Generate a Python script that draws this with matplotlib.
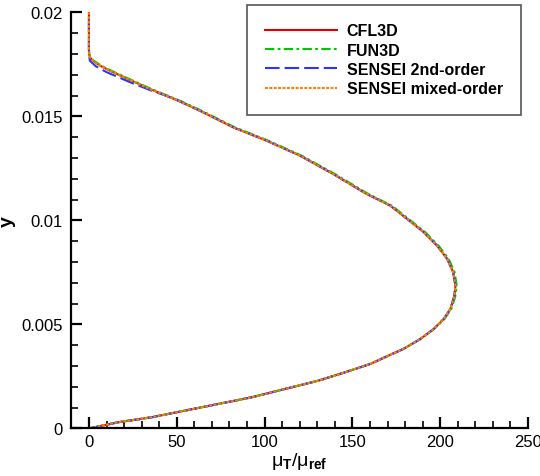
import numpy as np
import matplotlib.pyplot as plt
from matplotlib.ticker import MultipleLocator

plt.rcParams['font.family'] = ['Liberation Sans', 'DejaVu Sans']
plt.rcParams['mathtext.fontset'] = 'custom'
plt.rcParams['mathtext.rm'] = 'Liberation Sans'
plt.rcParams['mathtext.bf'] = 'Liberation Sans:bold'
plt.rcParams['mathtext.it'] = 'Liberation Sans:italic'

# eddy viscosity profile (mu_T/mu_ref vs y)
x_cfl3d = [0, 16.7, 35.7, 54.7, 73.7, 92.7, 111.7, 130.7, 145.8, 160.2,
           170.5, 179, 188.7, 196.3, 202, 205.8, 208.1, 208.7, 207.4, 204,
           198.3, 190.7, 181.2, 171.6, 158.1, 139.1, 120.2, 101.2, 82.2, 63.2,
           50.9, 34.8, 22, 12, 6, 2.4, 0.8, 0.2, 0, 0]
y_cfl3d = [0, 0.0003, 0.00054, 0.00086, 0.00118, 0.0015, 0.0019, 0.0023, 0.0027, 0.0031,
           0.0035, 0.00382, 0.0043, 0.00478, 0.00526, 0.00574, 0.00638, 0.00686, 0.00751, 0.00815,
           0.00878, 0.00943, 0.01007, 0.01071, 0.01127, 0.01223, 0.01311, 0.01383, 0.01447, 0.01527,
           0.01575, 0.01631, 0.0168, 0.01719, 0.01745, 0.01767, 0.0178, 0.01795, 0.0182, 0.02]

# FUN3D sits a hair to the right on the upper branch
x_fun3d = [0, 16.7, 35.7, 54.7, 73.7, 92.7, 111.7, 130.7, 145.8, 160.2,
           170.5, 179, 188.8, 196.5, 202.4, 206.3, 208.7, 209.4, 208.2, 204.8,
           199.1, 191.5, 182, 172.4, 159, 140, 121.1, 102.1, 83.1, 64.1,
           51.8, 35.6, 22.8, 12.8, 6.6, 2.8, 1, 0.3, 0, 0]
y_fun3d = y_cfl3d

# SENSEI 2nd-order drops slightly below near the edge of the layer
x_s2 = [0, 16.7, 35.7, 54.7, 73.7, 92.7, 111.7, 130.7, 145.8, 160.2,
        170.5, 179, 188.7, 196.3, 202, 205.8, 208.1, 208.7, 207.4, 204,
        198.3, 190.7, 181.2, 171.6, 158.1, 139.1, 120.2, 101.2, 82.2, 63.2,
        50.9, 46.2, 34.8, 23.4, 10.1, 4, 0.5, 0, 0]
y_s2 = [0, 0.0003, 0.00054, 0.00086, 0.00118, 0.0015, 0.0019, 0.0023, 0.0027, 0.0031,
        0.0035, 0.00382, 0.0043, 0.00478, 0.00526, 0.00574, 0.00638, 0.00686, 0.00751, 0.00815,
        0.00878, 0.00943, 0.01007, 0.01071, 0.01127, 0.01223, 0.01311, 0.01383, 0.01447, 0.01527,
        0.01575, 0.01592, 0.01626, 0.01664, 0.01712, 0.0174, 0.01767, 0.018, 0.02]

x_mixed = x_cfl3d
y_mixed = y_cfl3d

fig = plt.figure(figsize=(5.4, 4.77), dpi=100)
ax = fig.add_axes([0.1322, 0.0996, 0.8456, 0.8726])

lw = 1.5
ax.plot(x_cfl3d, y_cfl3d, color='#e00000', lw=lw, label='CFL3D')
ax.plot(x_fun3d, y_fun3d, color='#00c800', lw=lw, dashes=(4.5, 1.6, 1.3, 1.6), label='FUN3D')
ax.plot(x_s2, y_s2, color='#3232ff', lw=lw, dashes=(7, 2.4), label='SENSEI 2nd-order')
ax.plot(x_mixed, y_mixed, color='#ff8000', lw=lw, dashes=(1.4, 0.7), label='SENSEI mixed-order')

ax.set_xlim(-10, 250)
ax.set_ylim(0, 0.02)
ax.set_xticks([0, 50, 100, 150, 200, 250])
ax.set_yticks([0, 0.005, 0.01, 0.015, 0.02])
ax.set_yticklabels(['0', '0.005', '0.01', '0.015', '0.02'])
ax.xaxis.set_minor_locator(MultipleLocator(10))
ax.yaxis.set_minor_locator(MultipleLocator(0.001))
ax.tick_params(which='both', direction='in', labelsize=12, width=1.2)
ax.tick_params(which='major', length=8, width=1.6)
ax.tick_params(which='minor', length=5)
ax.tick_params(axis='x', pad=4)
ax.tick_params(axis='y', pad=6)

for side in ['top', 'right']:
    ax.spines[side].set_visible(False)
for side in ['left', 'bottom']:
    ax.spines[side].set_linewidth(1.6)

ax.set_xlabel(r'μ$_{\mathbf{T}}$/μ$_{\mathbf{ref}}$', fontsize=14, labelpad=1)
ax.set_ylabel('y', fontsize=14, fontweight='bold')
ax.yaxis.set_label_coords(-0.122, 0.5)

leg = fig.legend(loc='upper left', bbox_to_anchor=(247 / 540, 1 - 6 / 477),
                 bbox_transform=fig.transFigure, fancybox=False,
                 edgecolor='#555555', framealpha=1, handlelength=4.5,
                 handletextpad=0.6, prop={'weight': 'bold', 'size': 11.5},
                 labelspacing=0.27, borderpad=1.15, borderaxespad=0)
leg.get_frame().set_linewidth(1.2)

fig.savefig('out.png', dpi=100)
